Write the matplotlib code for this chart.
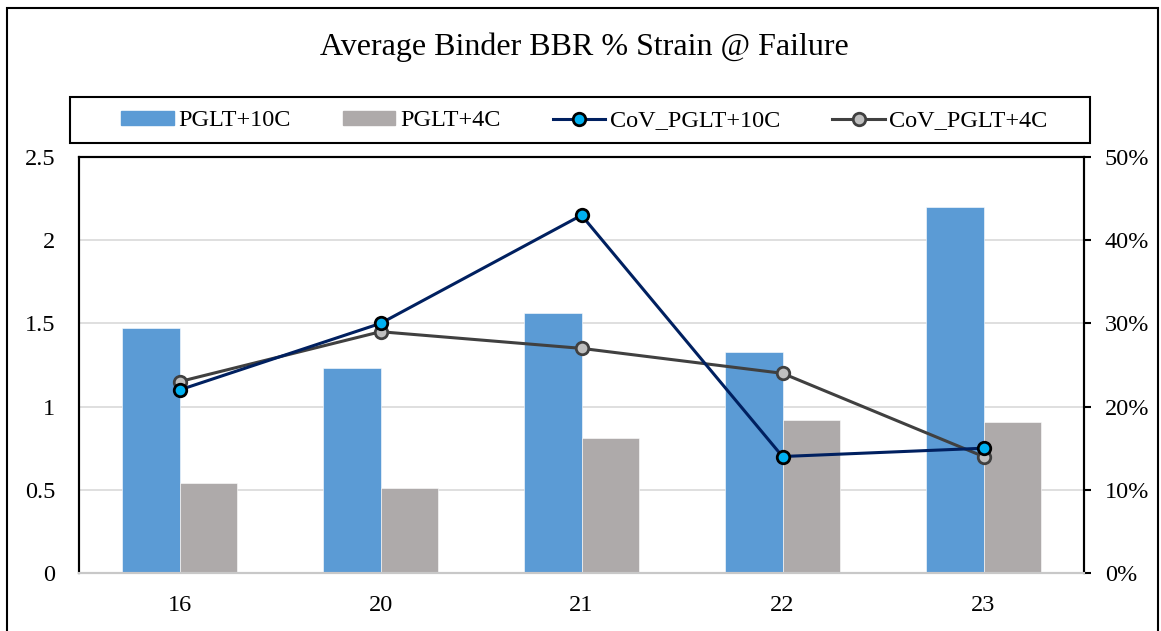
import matplotlib
matplotlib.use("Agg")
import matplotlib.pyplot as plt
import numpy as np
from matplotlib.patches import Rectangle
from matplotlib.lines import Line2D
from matplotlib.ticker import PercentFormatter

# data
categories = ["16", "20", "21", "22", "23"]
pglt_10c = [1.47, 1.23, 1.56, 1.33, 2.20]
pglt_4c = [0.54, 0.51, 0.81, 0.92, 0.91]
cov_10c = [0.22, 0.30, 0.43, 0.14, 0.15]
cov_4c = [0.23, 0.29, 0.27, 0.24, 0.14]

BLUE = "#5B9BD5"; GREY = "#AEAAAA"; NAVY = "#002060"; CYAN = "#00B0F0"
DARK = "#404040"; LIGHT = "#BFBFBF"; GRID = "#D9D9D9"

plt.rcParams.update({"font.family": ["Liberation Serif", "DejaVu Serif"]})

W, H = 1161, 631
fig = plt.figure(figsize=(W / 100, H / 100), dpi=100)
fig.patch.set_facecolor("white")

# plot area in pixels: x 79..1084, y 157..573
ax = fig.add_axes([79 / W, 1 - 573 / H, (1084 - 79) / W, (573 - 157) / H])
ax2 = ax.twinx()

x = np.arange(len(categories))
w = 0.284
ax.bar(x - w / 2, pglt_10c, w, color=BLUE, edgecolor="white", linewidth=0.4, zorder=2)
ax.bar(x + w / 2, pglt_4c, w, color=GREY, edgecolor="white", linewidth=0.4, zorder=2)

ax.set_xlim(-0.5, len(categories) - 0.5)
ax.set_ylim(0, 2.5)
ax.set_yticks([0, 0.5, 1, 1.5, 2, 2.5])
ax.set_yticklabels(["0", "0.5", "1", "1.5", "2", "2.5"])
ax.set_xticks(x)
ax.set_xticklabels(categories)
ax.set_axisbelow(True)
ax.grid(axis="y", color=GRID, linewidth=1.2)
ax.tick_params(axis="y", length=0, pad=17, labelsize=17.5)
ax.tick_params(axis="x", length=0, pad=16, labelsize=17.5)

ax2.plot(x, cov_10c, color=NAVY, lw=2.2, marker="o", ms=9,
         mfc=CYAN, mec="black", mew=2, zorder=4)
ax2.plot(x, cov_4c, color=DARK, lw=2.2, marker="o", ms=9,
         mfc=LIGHT, mec=DARK, mew=2, zorder=3)
ax2.set_ylim(0, 0.5)
ax2.set_yticks([0, 0.1, 0.2, 0.3, 0.4, 0.5])
ax2.yaxis.set_major_formatter(PercentFormatter(1.0, decimals=0))
ax2.tick_params(axis="y", direction="out", length=5, width=1.5, pad=10, labelsize=17.5)

for a in (ax, ax2):
    for sp in ("left", "top", "right"):
        a.spines[sp].set_color("black")
        a.spines[sp].set_linewidth(1.5)
    a.spines["bottom"].set_color("#C8C8C8")
    a.spines["bottom"].set_linewidth(1.5)

fig.text(584 / W, 1 - 47 / H, "Average Binder BBR % Strain @ Failure",
         ha="center", va="center", fontsize=23)

# legend, with its own frame box
handles = [
    Rectangle((0, 0), 1, 1, color=BLUE),
    Rectangle((0, 0), 1, 1, color=GREY),
    Line2D([], [], color=NAVY, lw=2.2, marker="o", ms=9, mfc=CYAN, mec="black", mew=2),
    Line2D([], [], color=DARK, lw=2.2, marker="o", ms=9, mfc=LIGHT, mec=DARK, mew=2),
]
labels = ["PGLT+10C", "PGLT+4C", "CoV_PGLT+10C", "CoV_PGLT+4C"]
fig.legend(handles, labels, loc="center", bbox_to_anchor=(584.5 / W, 1 - 121 / H),
           ncol=4, frameon=False, fontsize=17.5, handlelength=2.15, handleheight=0.5,
           handletextpad=0.2, columnspacing=2.15)
fig.patches.append(Rectangle((70 / W, 1 - 143 / H), (1090 - 70) / W, 46 / H,
                             transform=fig.transFigure, fill=False,
                             edgecolor="black", linewidth=1.5))

# outer chart border (bottom edge runs off the image)
fig.patches.append(Rectangle((6.5 / W, -0.02), (1158 - 6.5) / W, 1.02 - 7.5 / H,
                             transform=fig.transFigure, fill=False,
                             edgecolor="black", linewidth=1.5))

fig.savefig("out.png", dpi=100)
